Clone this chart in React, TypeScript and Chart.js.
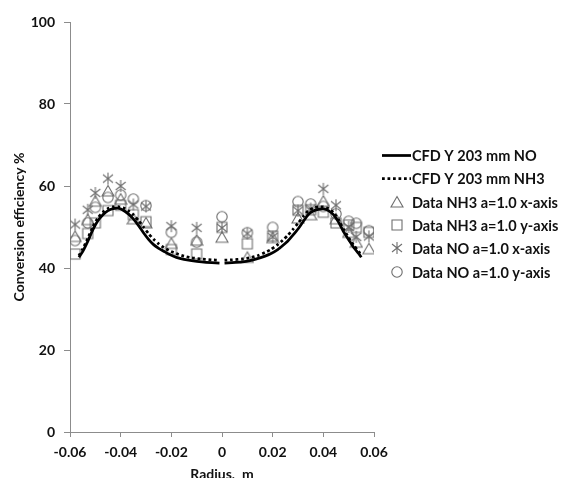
import { useEffect, useRef } from 'react';
import { Chart, registerables } from 'chart.js';

Chart.register(...registerables);

// ---------- data ----------
const xTickLabels = ['-0.06', '-0.04', '-0.02', '0', '0.02', '0.04', '0.06'];
const yTickLabels = ['0', '20', '40', '60', '80', '100'];

const seriesLabels = [
  'CFD Y 203 mm NO',
  'CFD Y 203 mm NH3',
  'Data NH3 a=1.0 x-axis',
  'Data NH3 a=1.0 y-axis',
  'Data NO a=1.0 x-axis',
  'Data NO a=1.0 y-axis',
];

// CFD profiles (null at the centre = gap in the curve)
const cfdRadius = [
  -0.0565, -0.055, -0.053, -0.051, -0.049, -0.047, -0.045, -0.043, -0.041, -0.039,
  -0.037, -0.035, -0.033, -0.031, -0.029, -0.027, -0.025, -0.023, -0.021, -0.018,
  -0.015, -0.012, -0.008, -0.004, -0.001, 0, 0.001, 0.004, 0.008, 0.011,
  0.014, 0.017, 0.019, 0.022, 0.024, 0.026, 0.028, 0.030, 0.032, 0.034,
  0.036, 0.038, 0.040, 0.042, 0.044, 0.046, 0.048, 0.050, 0.052, 0.054, 0.055,
];
const cfdNO = [
  42.6, 44.0, 46.5, 49.3, 51.5, 53.0, 54.0, 54.5, 54.6, 54.1,
  53.2, 52.0, 50.4, 48.6, 47.0, 45.7, 44.8, 44.1, 43.4, 42.6,
  42.1, 41.8, 41.5, 41.3, 41.2, null, 41.2, 41.3, 41.5, 41.8,
  42.3, 42.9, 43.4, 44.5, 45.5, 46.6, 48.0, 49.5, 51.3, 53.0,
  53.9, 54.3, 54.4, 54.0, 53.0, 51.2, 48.8, 46.9, 45.0, 43.5, 42.6,
];
const cfdNH3 = [
  43.0, 44.6, 47.2, 50.0, 52.2, 53.6, 54.5, 54.9, 55.0, 54.7,
  54.0, 53.0, 51.6, 50.0, 48.4, 47.0, 45.9, 45.0, 44.3, 43.5,
  42.9, 42.5, 42.2, 42.0, 41.9, null, 41.9, 42.0, 42.2, 42.5,
  43.0, 43.8, 44.4, 45.7, 46.8, 48.0, 49.4, 50.9, 52.5, 53.9,
  54.6, 54.9, 54.9, 54.5, 53.5, 51.8, 49.4, 47.4, 45.5, 44.0, 43.0,
];

// measured points
const dataRadius = [
  -0.058, -0.053, -0.050, -0.045, -0.040, -0.035, -0.030, -0.020, -0.010, 0,
  0.010, 0.020, 0.030, 0.035, 0.040, 0.045, 0.050, 0.053, 0.058,
];
const nh3XAxis = [47.7, 51.8, 56.3, 58.8, 56.8, 52.0, 51.0, 46.0, 46.8, 47.5, 42.6, 47.4, 52.2, 53.0, 56.3, 52.0, 48.7, 46.3, 44.7];
const nh3YAxis = [43.4, 48.4, 51.0, 54.0, 55.3, 53.0, 51.3, 44.5, 43.4, 49.9, 45.9, 47.8, 54.1, 54.2, 53.6, 51.0, 50.5, 49.9, 48.7];
const noXAxis = [50.6, 54.2, 58.3, 61.8, 60.0, 55.5, 55.0, 50.2, 49.8, 49.8, 48.4, 47.6, 54.0, 54.5, 59.3, 55.3, 50.0, 47.6, 47.7];
const noYAxis = [46.7, 51.0, 54.8, 57.2, 57.8, 56.8, 55.2, 48.7, 46.3, 52.5, 48.6, 49.9, 56.2, 55.6, 55.0, 53.2, 51.4, 50.9, 49.1];

// ---------- styles ----------
const FONT = 'Lato';
const TEXT = '#111111';
const AXIS = '#8c8c8c';
const MARK = '#6e6e6e';

function makeMarker(kind: string): HTMLCanvasElement {
  const s = 14;
  const c = document.createElement('canvas');
  c.width = s;
  c.height = s;
  const g = c.getContext('2d')!;
  g.strokeStyle = MARK;
  g.lineWidth = 1.1;
  g.beginPath();
  if (kind === 'triangle') {
    g.moveTo(7, 1.5);
    g.lineTo(13, 12);
    g.lineTo(1, 12);
    g.closePath();
  } else if (kind === 'square') {
    g.rect(2, 2, 10, 10);
  } else if (kind === 'circle') {
    g.arc(7, 7, 5.2, 0, Math.PI * 2);
  } else {
    g.moveTo(7, 1);
    g.lineTo(7, 13);
    g.moveTo(2, 3);
    g.lineTo(12, 11);
    g.moveTo(12, 3);
    g.lineTo(2, 11);
  }
  g.stroke();
  return c;
}

const legendPlugin = {
  id: 'refLegend',
  afterDraw(chart: any) {
    const ctx = chart.ctx as CanvasRenderingContext2D;
    const x0 = chart.chartArea.right + 8;
    const sampleW = 29;
    const y0 = 155;
    const step = 23.3;
    ctx.save();
    chart.data.datasets.forEach((ds: any, i: number) => {
      const y = Math.round(y0 + step * i);
      if (ds.showLine) {
        ctx.beginPath();
        ctx.strokeStyle = ds.borderColor;
        ctx.lineWidth = ds.borderWidth;
        ctx.setLineDash(ds.borderDash || []);
        ctx.lineCap = 'butt';
        ctx.moveTo(x0, y + 0.5);
        ctx.lineTo(x0 + sampleW, y + 0.5);
        ctx.stroke();
        ctx.setLineDash([]);
      } else {
        const img = ds.pointStyle as HTMLCanvasElement;
        ctx.drawImage(img, Math.round(x0 + 15 - img.width / 2), Math.round(y - img.height / 2));
      }
      ctx.fillStyle = TEXT;
      ctx.font = `bold 14.5px ${FONT}`;
      ctx.textBaseline = 'middle';
      ctx.textAlign = 'left';
      ctx.fillText(ds.label, x0 + sampleW + 1, y + 1);
    });
    ctx.restore();
  },
};

export default function App() {
  const ref = useRef<HTMLCanvasElement | null>(null);

  useEffect(() => {
    if (!ref.current) return;
    const tri = makeMarker('triangle');
    const sq = makeMarker('square');
    const ast = makeMarker('asterisk');
    const cir = makeMarker('circle');

    const pts = (ys: (number | null)[], xs: number[]) => xs.map((x, i) => ({ x, y: ys[i] }));
    const markerSet = (label: string, ys: number[], img: HTMLCanvasElement) => ({
      label,
      data: pts(ys, dataRadius),
      showLine: false,
      pointStyle: img,
      pointRadius: 6,
      pointHoverRadius: 6,
      borderColor: MARK,
      backgroundColor: 'rgba(0,0,0,0)',
    });

    const xTickValues = xTickLabels.map(Number);
    const yTickValues = yTickLabels.map(Number);
    const font = { family: FONT, size: 14, weight: 'bold' as const };

    const chart = new Chart(ref.current, {
      type: 'scatter',
      data: {
        datasets: [
          {
            label: seriesLabels[0],
            data: pts(cfdNO, cfdRadius),
            showLine: true,
            spanGaps: false,
            borderColor: '#000000',
            borderWidth: 2.75,
            pointRadius: 0,
            tension: 0.2,
          } as any,
          {
            label: seriesLabels[1],
            data: pts(cfdNH3, cfdRadius),
            showLine: true,
            spanGaps: false,
            borderColor: '#000000',
            borderWidth: 2.75,
            borderDash: [2.75, 2.75],
            pointRadius: 0,
            tension: 0.2,
          } as any,
          markerSet(seriesLabels[2], nh3XAxis, tri),
          markerSet(seriesLabels[3], nh3YAxis, sq),
          markerSet(seriesLabels[4], noXAxis, ast),
          markerSet(seriesLabels[5], noYAxis, cir),
        ],
      },
      options: {
        animation: false,
        responsive: false,
        devicePixelRatio: 1,
        layout: { padding: { left: 0, right: 191, top: 22, bottom: 0 } },
        plugins: { legend: { display: false }, tooltip: { enabled: false } },
        scales: {
          x: {
            type: 'linear',
            min: -0.06,
            max: 0.06,
            afterBuildTicks: (s: any) => {
              s.ticks = xTickValues.map((v) => ({ value: v }));
            },
            afterFit: (s: any) => {
              s.height = 54;
            },
            ticks: {
              callback: (_v: any, i: number) => xTickLabels[i],
              font,
              color: TEXT,
              padding: 7,
              maxRotation: 0,
              autoSkip: false,
            },
            grid: { display: true, drawOnChartArea: false, drawTicks: true, tickLength: 5, color: AXIS },
            border: { display: true, color: AXIS },
            title: { display: true, text: 'Radius,  m', font, color: TEXT, padding: { top: 0, bottom: 3 } },
          },
          y: {
            min: 0,
            max: 100,
            afterBuildTicks: (s: any) => {
              s.ticks = yTickValues.map((v) => ({ value: v }));
            },
            afterFit: (s: any) => {
              s.width = 70;
            },
            ticks: {
              callback: (_v: any, i: number) => yTickLabels[i],
              font,
              color: TEXT,
              padding: 9,
            },
            grid: { display: true, drawOnChartArea: false, drawTicks: true, tickLength: 6, color: AXIS },
            border: { display: true, color: AXIS },
            title: { display: true, text: 'Conversion efficiency %', font, color: TEXT, padding: { top: 11, bottom: 0 } },
          },
        },
      },
      plugins: [legendPlugin],
    });
    return () => chart.destroy();
  }, []);

  return (
    <div style={{ position: 'fixed', left: 0, top: 0, width: 565, height: 478, overflow: 'hidden', background: '#fff' }}>
      <canvas ref={ref} width={565} height={486} />
    </div>
  );
}
